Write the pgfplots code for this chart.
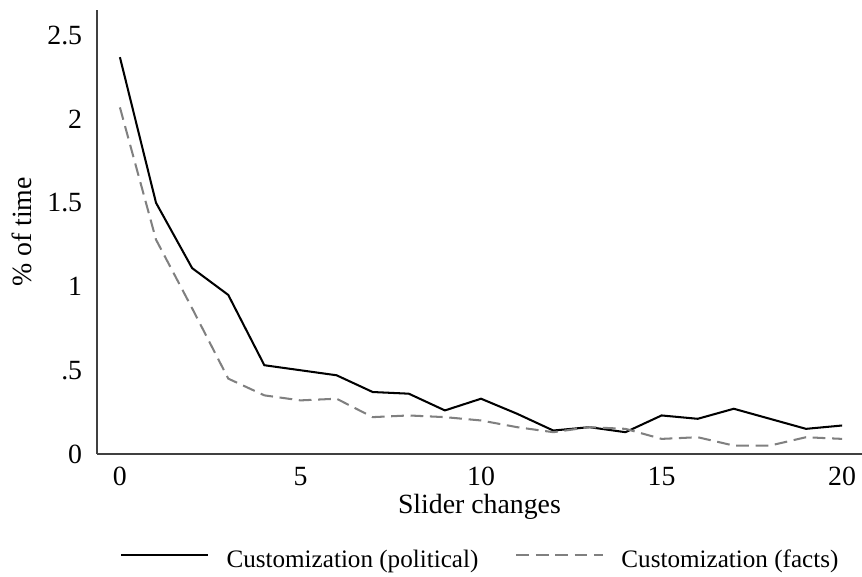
\documentclass[border=0pt]{standalone}
\usepackage{fontspec}
\setmainfont{Liberation Serif}
\usepackage{pgfplots}
\pgfplotsset{compat=1.18}
\usepackage{pgfplotstable}

\pgfplotstableread{
x y
0 2.37
1 1.50
2 1.11
3 0.95
4 0.53
5 0.50
6 0.47
7 0.37
8 0.36
9 0.26
10 0.33
11 0.24
12 0.14
13 0.16
14 0.13
15 0.23
16 0.21
17 0.27
18 0.21
19 0.15
20 0.17
}\political

\pgfplotstableread{
x y
0 2.07
1 1.28
2 0.87
3 0.45
4 0.35
5 0.32
6 0.33
7 0.22
8 0.23
9 0.22
10 0.20
11 0.16
12 0.13
13 0.16
14 0.15
15 0.09
16 0.10
17 0.05
18 0.05
19 0.10
20 0.09
}\facts

\begin{document}
\begin{tikzpicture}
\begin{axis}[
  name=ax,
  scale only axis,
  width=300pt, height=174.1pt,
  xmin=-0.637, xmax=20.55,
  ymin=0, ymax=2.652,
  axis x line=bottom, axis y line=left,
  axis line style={-, draw=black!75, line width=0.8pt},
  major tick length=0pt,
  xtick={0,5,10,15,20},
  xticklabels={0,5,10,15,20},
  ytick={0,0.5,1,1.5,2,2.5},
  yticklabels={0,.5,1,1.5,2,2.5},
  ticklabel style={font=\fontsize{10.9}{13}\selectfont},
  xticklabel style={anchor=base, inner sep=0pt, yshift=-12.5pt},
  yticklabel style={anchor=east, inner sep=0pt, xshift=-5.6pt},
  xlabel={Slider changes},
  ylabel={\% of time},
  label style={font=\fontsize{10.9}{13}\selectfont},
  xlabel style={at={(axis description cs:0.5,0)}, anchor=base, yshift=-23.4pt},
  ylabel style={at={(axis description cs:0,0.5)}, anchor=center, yshift=29.5pt},
  legend columns=2,
  legend style={draw=none, fill=none, at={(axis description cs:0.5,0)}, anchor=center,
    yshift=-41.9pt, xshift=0pt, nodes={inner sep=0pt},
    font=\fontsize{9.85}{12}\selectfont,
    /tikz/every odd column/.append style={column sep=6.8pt},
    /tikz/every even column/.append style={column sep=14.5pt}},
  legend image code/.code={\draw[#1] (0pt,2.4pt) -- (34pt,2.4pt);},
  clip=false,
]
\addplot[black, line width=0.8pt] table[x=x,y=y] {\political};
\addlegendentry{Customization (political)}
\addplot[gray, line width=0.8pt, dash pattern=on 5pt off 2.6pt] table[x=x,y=y] {\facts};
\addlegendentry{Customization (facts)}
\end{axis}
\pgfresetboundingbox
\path ([shift={(-38pt,-48.2pt)}]ax.south west) rectangle ([shift={(0pt,3.9pt)}]ax.north east);
\end{tikzpicture}
\end{document}
